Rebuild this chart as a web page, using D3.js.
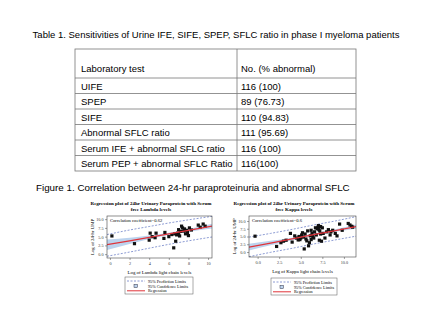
<!DOCTYPE html>
<html>
<head>
<meta charset="utf-8">
<script src="https://cdn.jsdelivr.net/npm/d3@7"></script>
<style>
  html, body { margin: 0; padding: 0; background: #fff; }
  svg { display: block; }
</style>
</head>
<body>
<div id="chart"></div>
<script>
// table 1
var tableTitle = "Table 1. Sensitivities of Urine IFE, SIFE, SPEP, SFLC ratio in phase I myeloma patients";
var tableHead = ["Laboratory test", "No. (% abnormal)"];
var testNames = ["UIFE", "SPEP", "SIFE", "Abnormal SFLC  ratio", "Serum IFE + abnormal SFLC ratio", "Serum PEP + abnormal SFLC Ratio"];
var testResults = ["116 (100)", "89 (76.73)", "110 (94.83)", "111 (95.69)", "116 (100)", "116(100)"];
var figCaption = "Figure 1. Correlation between  24-hr paraproteinuria and abnormal SFLC";

// lambda panel
var lamX = [0.2, 2.5, 4.0, 4.1, 4.3, 4.6, 4.7, 5.5, 5.6, 6.0, 6.3, 6.5, 6.6, 6.7, 6.8, 6.9, 7.0, 7.0, 7.1, 7.2, 7.3, 7.4, 7.5, 7.6, 7.7, 7.8, 7.9, 8.0, 8.1, 8.3, 9.0, 9.2, 9.5, 9.7];
var lamY = [5.2, 3.0, 4.0, 6.0, 5.0, 4.7, 6.0, 4.5, 6.2, 5.0, 5.6, 1.8, 5.8, 3.7, 5.5, 6.0, 7.0, 5.8, 5.2, 6.5, 8.0, 7.5, 6.6, 7.2, 5.8, 6.8, 6.2, 5.3, 7.5, 6.9, 8.3, 7.7, 8.6, 8.0];
var lamFitX = [-0.3, 2, 4, 6, 8, 10.4];
var lamFit  = [2.7, 3.8, 4.8, 5.8, 6.8, 8.0];
var lamCiLo = [1.2, 2.9, 4.3, 5.5, 6.4, 7.3];
var lamCiHi = [4.2, 4.7, 5.3, 6.1, 7.2, 8.7];
var lamPiLo = [-0.6, 0.6, 1.7, 2.8, 3.8, 4.9];
var lamPiHi = [5.6, 6.9, 7.9, 8.9, 9.8, 10.8];
var lamTicks = ["0", "2", "4", "6", "8", "10"];

// kappa panel
var kapX = [-0.3, 2.2, 2.7, 3.0, 3.3, 3.8, 4.0, 4.3, 4.5, 4.7, 4.8, 4.9, 5.0, 5.1, 5.2, 5.3, 5.4, 5.5, 5.6, 5.7, 5.8, 5.9, 6.0, 6.1, 6.2, 6.2, 6.3, 6.4, 6.5, 6.6, 6.7, 6.8, 6.9, 7.0, 7.05, 7.1, 7.15, 7.2, 7.3, 7.3, 7.4, 7.5, 7.6, 7.8, 8.0, 8.2, 8.4, 8.5, 8.7, 9.0, 9.2, 9.5, 9.8, 10.5, 10.7, 10.9, 11.0];
var kapY = [5.1, 1.8, 3.0, 3.5, 3.8, 6.0, 3.2, 5.2, 4.5, 3.9, 5.0, 4.0, 4.5, 5.5, 6.2, 4.8, 1.0, 5.8, 4.2, 3.6, 6.8, 2.0, 3.0, 5.2, 4.0, 7.0, 6.0, 5.0, 4.5, 6.5, 7.8, 5.5, 7.5, 8.0, 8.5, 7.2, 3.8, 6.8, 5.8, 8.2, 3.5, 7.8, 6.0, 4.5, 6.5, 7.2, 5.5, 6.5, 7.0, 6.0, 5.2, 9.0, 7.0, 9.2, 8.7, 8.3, 8.0];
var kapFitX = [-1.0, 1.5, 4, 6.5, 9, 11.4];
var kapFit  = [1.6, 2.9, 4.2, 5.6, 6.9, 8.2];
var kapCiLo = [0.5, 2.2, 3.8, 5.3, 6.5, 7.5];
var kapCiHi = [2.7, 3.6, 4.6, 5.9, 7.3, 8.9];
var kapPiLo = [-1.5, -0.1, 1.2, 2.6, 3.9, 5.1];
var kapPiHi = [4.8, 6.0, 7.3, 8.7, 10.0, 11.4];
var kapTicks = ["0.0", "2.5", "5.0", "7.5", "10.0"];

var yTicks = ["0.0", "2.5", "5.0", "7.5", "10.0"];
var legendLabels = ["95% Prediction Limits", "95% Confidence Limits", "Regression"];

var W = 432, H = 325;
var sans = "'Liberation Sans', Arial, sans-serif",
    serif = "'Liberation Serif', 'Times New Roman', serif";

var svg = d3.select("#chart").append("svg")
    .attr("width", W)
    .attr("height", H);

svg.append("text")
    .attr("x", 216).attr("y", 38)
    .attr("text-anchor", "middle")
    .attr("font-family", sans).attr("font-size", 9.5)
    .text(tableTitle);

// table grid
var tbl = {left: 75, mid: 237, right: 356, top: 49, headBottom: 78, rowH: 15.5};
var rowY = d3.scaleLinear().domain([0, testNames.length]).range([tbl.headBottom, tbl.headBottom + tbl.rowH * testNames.length]);
var gt = svg.append("g").attr("class", "table");
gt.append("rect")
    .attr("x", tbl.left).attr("y", tbl.top)
    .attr("width", tbl.right - tbl.left).attr("height", rowY(testNames.length) - tbl.top)
    .attr("fill", "none").attr("stroke", "#777").attr("stroke-width", 0.8);
gt.append("line")
    .attr("x1", tbl.mid).attr("x2", tbl.mid)
    .attr("y1", tbl.top).attr("y2", rowY(testNames.length))
    .attr("stroke", "#777").attr("stroke-width", 0.8);
gt.selectAll(".rowline")
    .data(d3.range(testNames.length))
    .enter().append("line")
    .attr("x1", tbl.left).attr("x2", tbl.right)
    .attr("y1", function(d) { return rowY(d); })
    .attr("y2", function(d) { return rowY(d); })
    .attr("stroke", "#777").attr("stroke-width", 0.8);

gt.selectAll(".head")
    .data(tableHead)
    .enter().append("text")
    .attr("x", function(d, i) { return i ? tbl.mid + 4 : tbl.left + 6; })
    .attr("y", tbl.headBottom - 6)
    .attr("font-family", sans).attr("font-size", 9.5)
    .text(function(d) { return d; });

gt.selectAll(".name")
    .data(testNames)
    .enter().append("text")
    .attr("x", tbl.left + 6)
    .attr("y", function(d, i) { return rowY(i) + 11.5; })
    .attr("font-family", sans).attr("font-size", 9.5)
    .text(function(d) { return d; });

gt.selectAll(".res")
    .data(testResults)
    .enter().append("text")
    .attr("x", tbl.mid + 4)
    .attr("y", function(d, i) { return rowY(i) + 11.5; })
    .attr("font-family", sans).attr("font-size", 9.5)
    .text(function(d) { return d; });

svg.append("text")
    .attr("x", 36).attr("y", 191)
    .attr("font-family", sans).attr("font-size", 9.8)
    .text(figCaption);

function drawPanel(o) {
  var g = svg.append("g");
  var x = d3.scaleLinear().domain(o.xDomain).range([o.left, o.right]);
  var y = d3.scaleLinear().domain(o.yDomain).range([o.bottom, o.top]);

  // titles
  g.selectAll(".ttl")
      .data(o.title)
      .enter().append("text")
      .attr("x", o.titleX)
      .attr("y", function(d, i) { return 204.5 + i * 6.5; })
      .attr("text-anchor", "middle")
      .attr("font-family", serif).attr("font-size", 5).attr("font-weight", "bold")
      .text(function(d) { return d; });

  var clip = "clip" + o.id;
  g.append("clipPath").attr("id", clip)
    .append("rect")
    .attr("x", o.left).attr("y", o.top)
    .attr("width", o.right - o.left).attr("height", o.bottom - o.top);

  var inner = g.append("g").attr("clip-path", "url(#" + clip + ")");
  var idx = d3.range(o.fitX.length);

  inner.append("path")
      .datum(idx)
      .attr("fill", "#bcd3ee").attr("stroke", "none")
      .attr("d", d3.area()
        .x(function(i) { return x(o.fitX[i]); })
        .y0(function(i) { return y(o.ciLo[i]); })
        .y1(function(i) { return y(o.ciHi[i]); })
        .curve(d3.curveMonotoneX));

  [o.piLo, o.piHi].forEach(function(arr) {
    inner.append("path")
        .datum(idx)
        .attr("fill", "none").attr("stroke", "#6e82c8")
        .attr("stroke-width", 0.8).attr("stroke-dasharray", "2,1.5")
        .attr("d", d3.line()
          .x(function(i) { return x(o.fitX[i]); })
          .y(function(i) { return y(arr[i]); })
          .curve(d3.curveMonotoneX));
  });

  inner.selectAll(".pt")
      .data(o.px)
      .enter().append("rect")
      .attr("x", function(d) { return x(d) - 1.6; })
      .attr("y", function(d, i) { return y(o.py[i]) - 1.6; })
      .attr("width", 3.2).attr("height", 3.2)
      .attr("fill", "#111");

  inner.append("path")
      .datum(idx)
      .attr("fill", "none").attr("stroke", "#e0343a").attr("stroke-width", 1.3)
      .attr("d", d3.line()
        .x(function(i) { return x(o.fitX[i]); })
        .y(function(i) { return y(o.fit[i]); }));

  g.append("rect")
      .attr("x", o.left).attr("y", o.top)
      .attr("width", o.right - o.left).attr("height", o.bottom - o.top)
      .attr("fill", "none").attr("stroke", "#444").attr("stroke-width", 0.6);

  g.append("text")
      .attr("x", o.left + 3).attr("y", o.top + 5.5)
      .attr("font-family", serif).attr("font-size", 4.6)
      .text(o.corr);

  var xAxis = d3.axisBottom(x)
      .tickValues(o.xTicks.map(Number))
      .tickFormat(function(d, i) { return o.xTicks[i]; })
      .tickSize(2).tickPadding(2);
  var gx = g.append("g").attr("transform", "translate(0," + o.bottom + ")").call(xAxis);
  var yAxis = d3.axisLeft(y)
      .tickValues(yTicks.map(Number))
      .tickFormat(function(d, i) { return yTicks[i]; })
      .tickSize(2).tickPadding(1.5);
  var gy = g.append("g").attr("transform", "translate(" + o.left + ",0)").call(yAxis);
  [gx, gy].forEach(function(a) {
    a.select(".domain").remove();
    a.selectAll("line").attr("stroke", "#444").attr("stroke-width", 0.5);
    a.selectAll("text").attr("font-family", serif).attr("font-size", 4.2).attr("fill", "#333");
  });

  g.append("text")
      .attr("transform", "translate(" + (o.left - 13) + "," + ((o.top + o.bottom) / 2) + ") rotate(-90)")
      .attr("text-anchor", "middle")
      .attr("font-family", serif).attr("font-size", 4.8)
      .text("Log of 24-hr UMP");

  g.append("text")
      .attr("x", (o.left + o.right) / 2).attr("y", o.bottom + 16)
      .attr("text-anchor", "middle")
      .attr("font-family", serif).attr("font-size", 4.8)
      .text(o.xLabel);

  // legend
  var lg = g.append("g").attr("transform", "translate(" + o.legX + "," + o.legY + ")");
  lg.append("rect")
      .attr("width", o.legW).attr("height", 17)
      .attr("fill", "#fff").attr("stroke", "#555").attr("stroke-width", 0.5);
  lg.append("line")
      .attr("x1", 2).attr("x2", 20).attr("y1", 4).attr("y2", 4)
      .attr("stroke", "#6e82c8").attr("stroke-width", 0.8).attr("stroke-dasharray", "2,1.5");
  lg.append("rect")
      .attr("x", 9).attr("y", 7.3).attr("width", 3.4).attr("height", 3.4)
      .attr("fill", "#bcd3ee").attr("stroke", "#334").attr("stroke-width", 0.5);
  lg.append("line")
      .attr("x1", 2).attr("x2", 20).attr("y1", 13.8).attr("y2", 13.8)
      .attr("stroke", "#e0343a").attr("stroke-width", 1);
  lg.selectAll(".lt")
      .data(legendLabels)
      .enter().append("text")
      .attr("x", 23)
      .attr("y", function(d, i) { return 5.6 + i * 4.9; })
      .attr("font-family", serif).attr("font-size", 4.2)
      .text(function(d) { return d; });
}

drawPanel({
  id: "lam", left: 107, right: 212, top: 216, bottom: 258,
  xDomain: [-0.3, 10.4], yDomain: [-1.1, 10.9],
  title: ["Regression plot of 24hr Urinary Paraprotein with Serum", "free Lambda levels"],
  titleX: 151,
  corr: "Correlation coefficient=0.62",
  xLabel: "Log of Lambda light chain levels",
  px: lamX, py: lamY, fitX: lamFitX, fit: lamFit,
  ciLo: lamCiLo, ciHi: lamCiHi, piLo: lamPiLo, piHi: lamPiHi,
  xTicks: lamTicks, legX: 125, legY: 277, legW: 68
});

drawPanel({
  id: "kap", left: 249, right: 356, top: 216, bottom: 257,
  xDomain: [-1.0, 11.4], yDomain: [-1.6, 11.6],
  title: ["Regression plot of 24hr Urinary Paraprotein with Serum", "free Kappa levels"],
  titleX: 294,
  corr: "Correlation coefficient=0.6",
  xLabel: "Log of Kappa light chain levels",
  px: kapX, py: kapY, fitX: kapFitX, fit: kapFit,
  ciLo: kapCiLo, ciHi: kapCiHi, piLo: kapPiLo, piHi: kapPiHi,
  xTicks: kapTicks, legX: 271, legY: 278, legW: 66
});
</script>
</body>
</html>
